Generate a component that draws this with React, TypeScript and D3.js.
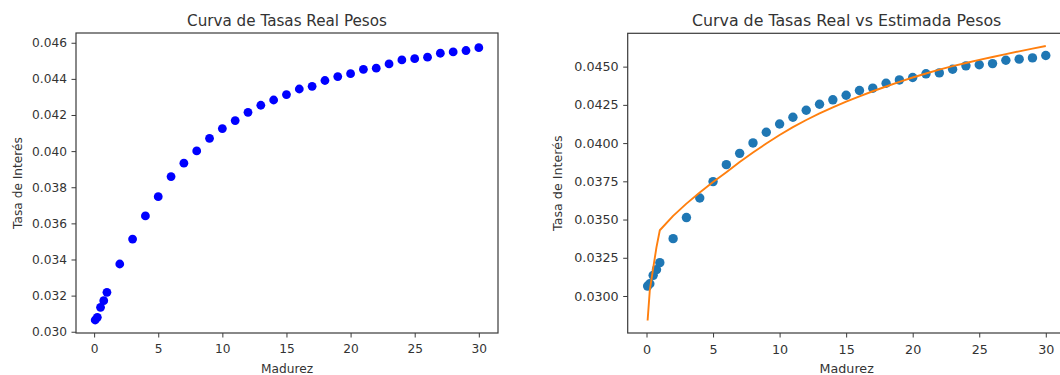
import React, { useRef, useEffect } from 'react';
import * as d3 from 'd3';

// Maturities in years (1m, 3m, 6m, 9m, then yearly)
const maturities = [
  0.083, 0.25, 0.5, 0.75, 1, 2, 3, 4, 5, 6, 7, 8, 9, 10, 11, 12, 13, 14, 15,
  16, 17, 18, 19, 20, 21, 22, 23, 24, 25, 26, 27, 28, 29, 30,
];

const realRates = [
  0.03065, 0.0308, 0.03135, 0.03172, 0.03218, 0.03375, 0.03513, 0.03641, 0.03748,
  0.03859, 0.03933, 0.04001, 0.04071, 0.04125, 0.04169, 0.04215, 0.04254, 0.04283,
  0.04313, 0.04344, 0.04359, 0.04391, 0.04413, 0.04429, 0.04453, 0.04459, 0.04483,
  0.04505, 0.04512, 0.0452, 0.04542, 0.04549, 0.04557, 0.04573,
];

const estimatedRates = [
  0.0284, 0.0304, 0.0318, 0.0332, 0.0343, 0.03524, 0.03604, 0.03677, 0.03745,
  0.0381, 0.03876, 0.03938, 0.03997, 0.04053, 0.04104, 0.04151, 0.04194, 0.04234,
  0.04271, 0.04306, 0.04339, 0.0437, 0.044, 0.04429, 0.04455, 0.0448, 0.04503,
  0.04524, 0.04544, 0.04563, 0.04582, 0.046, 0.04618, 0.04635,
];

const xTicks = [0, 5, 10, 15, 20, 25, 30];
const leftYTicks = [0.03, 0.032, 0.034, 0.036, 0.038, 0.04, 0.042, 0.044, 0.046];
const rightYTicks = [0.03, 0.0325, 0.035, 0.0375, 0.04, 0.0425, 0.045];

const textColor = '#333333';
const spineColor = '#3a3a3a';
const font = '"DejaVu Sans", Verdana, sans-serif';

interface Panel {
  title: string;
  box: { left: number; right: number; top: number; bottom: number };
  xDomain: [number, number];
  yDomain: [number, number];
  yTicks: number[];
  yFormat: string;
  yLabelX: number;
  dotColor: string;
  dotR: number;
  showLine: boolean;
  fontSize: number;
}

const panels: Panel[] = [
  {
    title: 'Curva de Tasas Real Pesos',
    box: { left: 76, right: 498, top: 33, bottom: 333 },
    xDomain: [-1.413, 31.496],
    yDomain: [0.02993, 0.04654],
    yTicks: leftYTicks,
    yFormat: '.3f',
    yLabelX: 17.5,
    dotColor: '#0000ff',
    dotR: 4.4,
    showLine: false,
    fontSize: 12.2,
  },
  {
    title: 'Curva de Tasas Real vs Estimada Pesos',
    box: { left: 627.7, right: 1065.7, top: 33.3, bottom: 333 },
    xDomain: [-1.413, 31.496],
    yDomain: [0.02758, 0.04718],
    yTicks: rightYTicks,
    yFormat: '.4f',
    yLabelX: 557.5,
    dotColor: '#1f77b4',
    dotR: 4.7,
    showLine: true,
    fontSize: 12.7,
  },
];

const App: React.FC = () => {
  const svgRef = useRef<SVGSVGElement>(null);
  const width = 1060;
  const height = 375;

  useEffect(() => {
    if (!svgRef.current) return;
    const svg = d3.select(svgRef.current);
    svg.selectAll('*').remove();

    const points = maturities.map((m, i) => ({ m, real: realRates[i], est: estimatedRates[i] }));

    panels.forEach(p => {
      const { left, right, top, bottom } = p.box;
      const x = d3.scaleLinear().domain(p.xDomain).range([left, right]);
      const y = d3.scaleLinear().domain(p.yDomain).range([bottom, top]);
      const g = svg.append('g');

      // Dots
      g.selectAll('.dot')
        .data(points)
        .enter()
        .append('circle')
        .attr('cx', d => x(d.m))
        .attr('cy', d => y(d.real))
        .attr('r', p.dotR)
        .attr('fill', p.dotColor);

      // Estimated curve
      if (p.showLine) {
        const line = d3.line<typeof points[0]>()
          .x(d => x(d.m))
          .y(d => y(d.est));
        g.append('path')
          .datum(points)
          .attr('fill', 'none')
          .attr('stroke', '#ff7f0e')
          .attr('stroke-width', 1.9)
          .attr('stroke-linejoin', 'round')
          .attr('d', line);
      }

      // Frame
      g.append('rect')
        .attr('x', left)
        .attr('y', top)
        .attr('width', right - left)
        .attr('height', bottom - top)
        .attr('fill', 'none')
        .attr('stroke', spineColor)
        .attr('stroke-width', 1.2);

      // Axes
      const xAxis = g.append('g')
        .attr('transform', `translate(0,${bottom})`)
        .call(d3.axisBottom(x).tickValues(xTicks).tickSize(4.5).tickPadding(7).tickFormat(d3.format('d')));
      const yAxis = g.append('g')
        .attr('transform', `translate(${left},0)`)
        .call(d3.axisLeft(y).tickValues(p.yTicks).tickSize(4.5).tickPadding(4.5).tickFormat(d3.format(p.yFormat)));

      [xAxis, yAxis].forEach(a => {
        a.select('.domain').remove();
        a.selectAll('line').attr('stroke', spineColor).attr('stroke-width', 1);
        a.selectAll('text')
          .attr('fill', textColor)
          .attr('font-family', font)
          .attr('font-size', p.fontSize);
      });

      // Title
      g.append('text')
        .attr('x', (left + right) / 2)
        .attr('y', 26)
        .attr('text-anchor', 'middle')
        .attr('fill', textColor)
        .attr('font-family', font)
        .attr('font-size', p.fontSize * 1.245)
        .text(p.title);

      // Axis labels
      g.append('text')
        .attr('x', (left + right) / 2)
        .attr('y', 373)
        .attr('text-anchor', 'middle')
        .attr('fill', textColor)
        .attr('font-family', font)
        .attr('font-size', p.fontSize)
        .text('Madurez');

      g.append('text')
        .attr('transform', `translate(${p.yLabelX},${(top + bottom) / 2}) rotate(-90)`)
        .attr('text-anchor', 'middle')
        .attr('dy', '0.35em')
        .attr('fill', textColor)
        .attr('font-family', font)
        .attr('font-size', p.fontSize)
        .text('Tasa de Interés');
    });
  }, []);

  return (
    <div style={{ position: 'fixed', left: 0, top: 0, width, height, background: '#fff', overflow: 'hidden' }}>
      <svg ref={svgRef} width={width} height={height} style={{ display: 'block' }} />
    </div>
  );
};

export default App;
